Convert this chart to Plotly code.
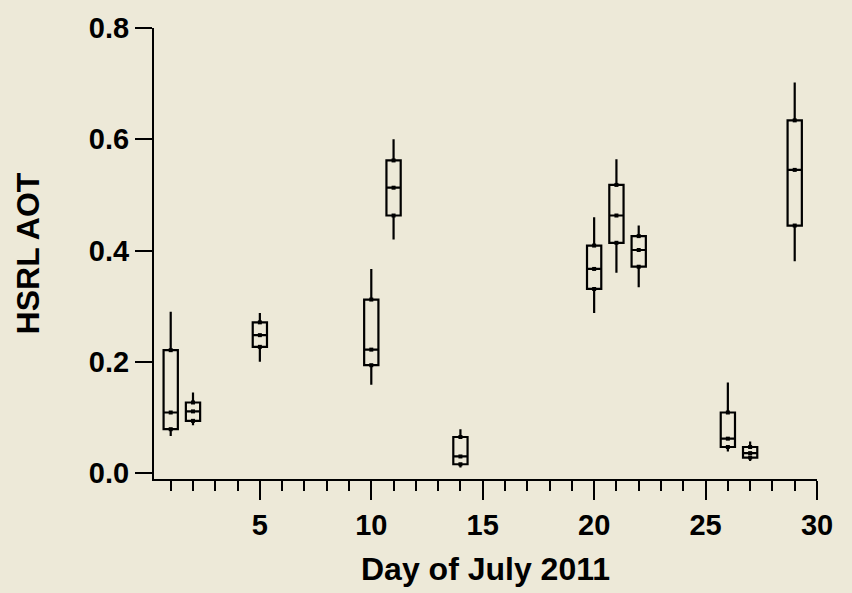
import plotly.graph_objects as go

# Daily HSRL aerosol optical thickness statistics, July 2011
days = [1, 2, 5, 10, 11, 14, 20, 21, 22, 26, 27, 29]
aot_min = [0.067, 0.086, 0.200, 0.159, 0.420, 0.010, 0.288, 0.360, 0.334, 0.039, 0.022, 0.381]
aot_q1 = [0.079, 0.094, 0.227, 0.194, 0.463, 0.016, 0.331, 0.414, 0.371, 0.047, 0.028, 0.445]
aot_median = [0.109, 0.111, 0.248, 0.222, 0.513, 0.030, 0.367, 0.463, 0.401, 0.062, 0.036, 0.545]
aot_q3 = [0.221, 0.127, 0.271, 0.312, 0.562, 0.065, 0.409, 0.518, 0.426, 0.109, 0.047, 0.634]
aot_max = [0.290, 0.145, 0.288, 0.367, 0.600, 0.079, 0.460, 0.564, 0.445, 0.163, 0.057, 0.702]

major_ticks = [5, 10, 15, 20, 25, 30]
y_ticks = [0.0, 0.2, 0.4, 0.6, 0.8]

BG = "#EDE9D8"
FONT = "Liberation Sans, Arial, Helvetica, sans-serif"

fig = go.Figure()

fig.add_trace(go.Box(
    x=days,
    lowerfence=aot_min,
    q1=aot_q1,
    median=aot_median,
    q3=aot_q3,
    upperfence=aot_max,
    width=0.64,
    whiskerwidth=0,
    fillcolor="rgba(0,0,0,0)",
    line=dict(color="black", width=2.2),
    boxpoints=False,
    hoverinfo="skip",
    showlegend=False,
))

# small tick marks at the centre of each quartile/median line
for vals in (aot_q1, aot_median, aot_q3):
    fig.add_trace(go.Scatter(
        x=days, y=vals, mode="markers",
        marker=dict(symbol="square", size=4, color="black"),
        hoverinfo="skip", showlegend=False,
    ))

fig.update_layout(
    width=852, height=593,
    margin=dict(l=154, r=35, t=18, b=112),
    paper_bgcolor=BG, plot_bgcolor=BG,
    font=dict(family=FONT, color="black"),
)

fig.update_xaxes(
    range=[0.25, 30],
    showgrid=False, zeroline=False,
    showline=True, linecolor="black", linewidth=2,
    ticks="outside", ticklen=19, tickwidth=2, tickcolor="black",
    tickvals=major_ticks, ticktext=[f"<b>{v}</b>" for v in major_ticks],
    tickfont=dict(size=29, family=FONT),
    minor=dict(tick0=0, dtick=1, ticks="outside", ticklen=10, tickwidth=2, tickcolor="black"),
    title=dict(text="<b>Day of July 2011</b>", font=dict(size=32, family=FONT), standoff=18),
)

fig.update_yaxes(
    range=[-0.0105, 0.8],
    showgrid=False, zeroline=False,
    showline=True, linecolor="black", linewidth=2,
    ticks="outside", ticklen=17, tickwidth=2, tickcolor="black",
    tickvals=y_ticks, ticktext=[f"<b>{v:.1f}</b>" for v in y_ticks],
    tickfont=dict(size=29, family=FONT),
    title=dict(text="<b>HSRL AOT</b>", font=dict(size=32, family=FONT), standoff=40),
)

fig.write_html("out.html")
